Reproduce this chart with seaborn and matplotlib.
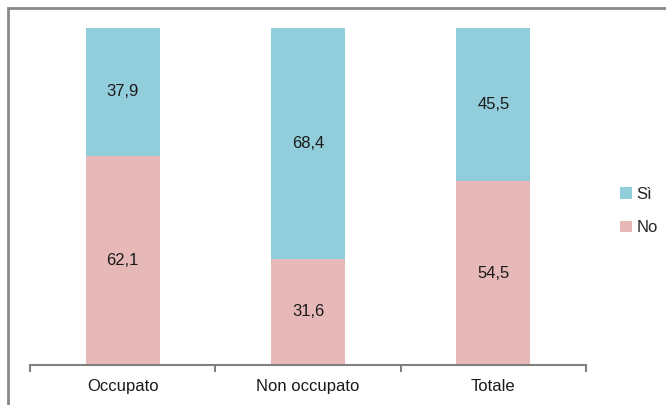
import numpy as np
import pandas as pd
import matplotlib
matplotlib.use('Agg')
import matplotlib.pyplot as plt
import seaborn as sns
from matplotlib.patches import Rectangle

# ── dati ──────────────────────────────────────────────────────────────────────
categorie = ['Occupato', 'Non occupato', 'Totale']
val_no = [62.1, 31.6, 54.5]
val_si = [37.9, 68.4, 45.5]

col_si = '#92CDDC'
col_no = '#E6B9B8'

sns.set_style('white')
plt.rcParams['font.family'] = ['Liberation Sans', 'DejaVu Sans']

df = pd.DataFrame({'categoria': categorie, 'No': val_no, 'Si': val_si})

fig = plt.figure(figsize=(6.66, 4.05), dpi=100)
ax = fig.add_axes([30 / 666, 1 - 365 / 405, 556 / 666, 337 / 405])

sns.barplot(data=df, x='categoria', y='No', color=col_no, width=0.4,
            saturation=1, ax=ax, label='No', linewidth=0)
sns.barplot(data=df, x='categoria', y='Si', color=col_si, width=0.4,
            saturation=1, ax=ax, bottom=df['No'], label='Sì', linewidth=0)
if ax.get_legend() is not None:
    ax.get_legend().remove()

for i, (n, s) in enumerate(zip(val_no, val_si)):
    ax.text(i, n / 2, f'{n:.1f}'.replace('.', ','), ha='center', va='center', fontsize=12, color='#1a1a1a')
    ax.text(i, n + s / 2, f'{s:.1f}'.replace('.', ','), ha='center', va='center', fontsize=12, color='#1a1a1a')

ax.set_xlim(-0.5, 2.5)
ax.set_ylim(0, 100)
ax.set_xlabel('')
ax.set_ylabel('')
ax.set_yticks([])
for side in ['left', 'right', 'top']:
    ax.spines[side].set_visible(False)
ax.spines['bottom'].set_color('#808080')
ax.spines['bottom'].set_linewidth(1.5)
ax.set_xticks([-0.5, 0.5, 1.5, 2.5], minor=True)
ax.tick_params(axis='x', which='major', length=0, labelsize=12, pad=10, colors='#1a1a1a')
ax.tick_params(axis='x', which='minor', length=5, width=1.5, color='#808080', direction='out', bottom=True)

handles, labels = ax.get_legend_handles_labels()
leg = fig.legend(handles[::-1], labels[::-1], loc='center left', bbox_to_anchor=(605 / 666, 1 - 211 / 405),
                 frameon=False, fontsize=12, handlelength=0.7, handleheight=0.7,
                 handletextpad=0.3, labelspacing=1.1)

# cornice grigia del grafico
fig.patches.append(Rectangle((8 / 666, -0.1), 1.2, 1 - 8 / 405 + 0.1, transform=fig.transFigure,
                             fill=False, edgecolor='#888888', linewidth=2, zorder=10))

fig.savefig('out.png', dpi=100)
